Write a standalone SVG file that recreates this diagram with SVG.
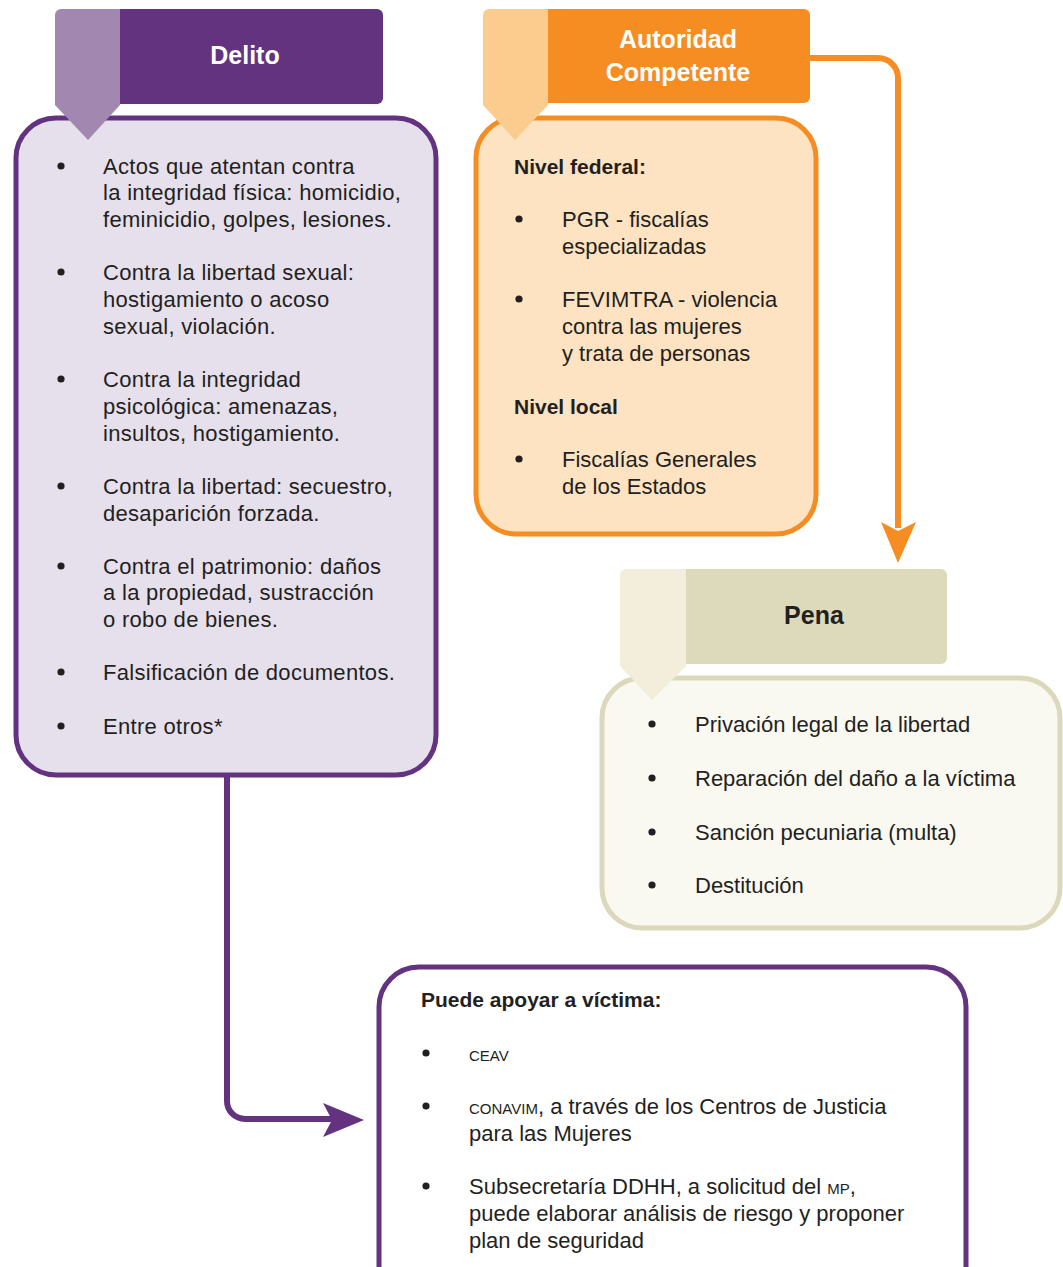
<svg xmlns="http://www.w3.org/2000/svg" width="1063" height="1267" viewBox="0 0 1063 1267">
<style>
text{font-family:"Liberation Sans",Arial,sans-serif;fill:#231f20;font-size:22px}
.b{font-weight:bold}
.h{font-weight:bold;font-size:25px;text-anchor:middle}
.w{fill:#ffffff}
.sc{font-size:15px}
.ls{letter-spacing:0.3px}
.conn{fill:none;stroke-width:6}
</style>
<rect width="1063" height="1267" fill="#ffffff"/>
<g id="connectors">
<path class="conn" d="M810,58 H878 A20,20 0 0 1 898,78 V528" stroke="#f58d22"/>
<polygon points="881,522 898,531 916,522 898,563" fill="#f58d22"/>
<path class="conn" d="M227,777 V1101 A18,18 0 0 0 245,1119 H334" stroke="#633380"/>
<polygon points="323,1103 364,1120 323,1137 332,1120" fill="#633380"/>
</g>
<g id="delito">
<rect x="16" y="118" width="420" height="657" rx="40" fill="#e6e0ec" stroke="#633380" stroke-width="5"/>
<path d="M120,9 H377 A6,6 0 0 1 383,15 V98 A6,6 0 0 1 377,104 H120 Z" fill="#633380"/>
<path d="M61,9 H120 V105 L88,140 L55,105 V15 A6,6 0 0 1 61,9 Z" fill="#a287b0"/>
<text class="h w" x="245" y="64">Delito</text>
<g fill="#231f20">
<circle cx="61" cy="166" r="3.6"/><circle cx="61" cy="272" r="3.6"/><circle cx="61" cy="379" r="3.6"/><circle cx="61" cy="486" r="3.6"/><circle cx="61" cy="566" r="3.6"/><circle cx="61" cy="672" r="3.6"/><circle cx="61" cy="726" r="3.6"/>
</g>
<g class="ls">
<text x="103" y="174">Actos que atentan contra</text>
<text x="103" y="200">la integridad física: homicidio,</text>
<text x="103" y="227">feminicidio, golpes, lesiones.</text>
<text x="103" y="280">Contra la libertad sexual:</text>
<text x="103" y="307">hostigamiento o acoso</text>
<text x="103" y="334">sexual, violación.</text>
<text x="103" y="387">Contra la integridad</text>
<text x="103" y="414">psicológica: amenazas,</text>
<text x="103" y="441">insultos, hostigamiento.</text>
<text x="103" y="494">Contra la libertad: secuestro,</text>
<text x="103" y="521">desaparición forzada.</text>
<text x="103" y="574">Contra el patrimonio: daños</text>
<text x="103" y="600">a la propiedad, sustracción</text>
<text x="103" y="627">o robo de bienes.</text>
<text x="103" y="680">Falsificación de documentos.</text>
<text x="103" y="734">Entre otros*</text>
</g>
</g>
<g id="autoridad">
<rect x="476" y="118" width="340" height="416" rx="40" fill="#fde3c1" stroke="#f58d22" stroke-width="5"/>
<path d="M548,9 H804 A6,6 0 0 1 810,15 V97 A6,6 0 0 1 804,103 H548 Z" fill="#f58d22"/>
<path d="M489,9 H548 V105 L515,140 L483,105 V15 A6,6 0 0 1 489,9 Z" fill="#fbcc8d"/>
<text class="h w" x="678" y="48">Autoridad</text>
<text class="h w" x="678" y="81">Competente</text>
<text class="b" x="514" y="174" style="font-size:21px">Nivel federal:</text>
<g fill="#231f20"><circle cx="519" cy="219" r="3.6"/><circle cx="519" cy="299" r="3.6"/><circle cx="519" cy="459" r="3.6"/></g>
<text x="562" y="227">PGR - fiscalías</text>
<text x="562" y="254">especializadas</text>
<text x="562" y="307">FEVIMTRA - violencia</text>
<text x="562" y="334">contra las mujeres</text>
<text x="562" y="361">y trata de personas</text>
<text class="b" x="514" y="414" style="font-size:21px">Nivel local</text>
<text x="562" y="467">Fiscalías Generales</text>
<text x="562" y="494">de los Estados</text>
</g>
<g id="pena">
<rect x="602" y="678" width="458" height="250" rx="40" fill="#f9f8f1" stroke="#dcd8bb" stroke-width="5"/>
<path d="M686,569 H941 A6,6 0 0 1 947,575 V658 A6,6 0 0 1 941,664 H686 Z" fill="#ddd9bb"/>
<path d="M626,569 H686 V666 L652,700 L620,666 V575 A6,6 0 0 1 626,569 Z" fill="#f3eedb"/>
<text class="h" x="814" y="624">Pena</text>
<g fill="#231f20"><circle cx="652" cy="724" r="3.6"/><circle cx="652" cy="778" r="3.6"/><circle cx="652" cy="832" r="3.6"/><circle cx="652" cy="885" r="3.6"/></g>
<text x="695" y="732">Privación legal de la libertad</text>
<text x="695" y="786">Reparación del daño a la víctima</text>
<text x="695" y="840">Sanción pecuniaria (multa)</text>
<text x="695" y="893">Destitución</text>
</g>
<g id="apoyo">
<rect x="379" y="967" width="587" height="340" rx="40" fill="#ffffff" stroke="#633380" stroke-width="5"/>
<text class="b" x="421" y="1007" style="font-size:21px">Puede apoyar a víctima:</text>
<g fill="#231f20"><circle cx="426" cy="1053" r="3.6"/><circle cx="426" cy="1106" r="3.6"/><circle cx="426" cy="1186" r="3.6"/></g>
<text x="469" y="1061" class="sc">CEAV</text>
<text x="469" y="1114"><tspan class="sc">CONAVIM</tspan>, a través de los Centros de Justicia</text>
<text x="469" y="1141">para las Mujeres</text>
<text x="469" y="1194">Subsecretaría DDHH, a solicitud del <tspan class="sc">MP</tspan>,</text>
<text x="469" y="1221">puede elaborar análisis de riesgo y proponer</text>
<text x="469" y="1248">plan de seguridad</text>
</g>
</svg>
